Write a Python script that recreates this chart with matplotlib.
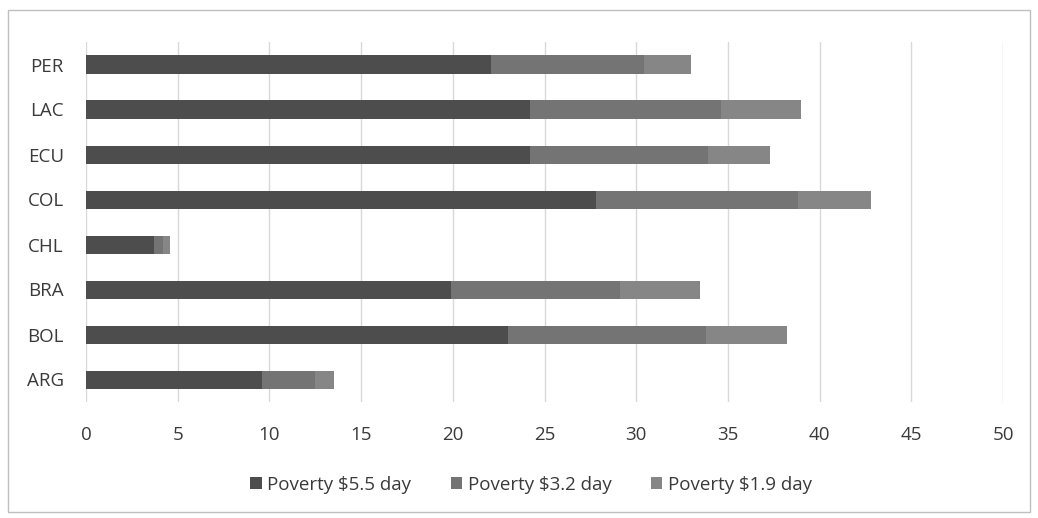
import matplotlib.pyplot as plt
from matplotlib.patches import Rectangle

plt.rcParams['font.family'] = ['Open Sans', 'DejaVu Sans']

# countries, bottom to top
countries = ['ARG', 'BOL', 'BRA', 'CHL', 'COL', 'ECU', 'LAC', 'PER']

# stacked segment widths
pov_55 = [9.6, 23.0, 19.9, 3.7, 27.8, 24.2, 24.2, 22.1]
pov_32 = [2.9, 10.8, 9.2, 0.5, 11.0, 9.7, 10.4, 8.3]
pov_19 = [1.0, 4.4, 4.4, 0.4, 4.0, 3.4, 4.4, 2.6]

series = [
    ('Poverty $5.5 day', pov_55, '#4d4d4d'),
    ('Poverty $3.2 day', pov_32, '#747474'),
    ('Poverty $1.9 day', pov_19, '#868686'),
]

W, H = 1038, 518
fig = plt.figure(figsize=(W / 100, H / 100), dpi=100)
ax = fig.add_axes([86 / W, 1 - 402 / H, (1003 - 86) / W, (402 - 42) / H])

left = [0.0] * len(countries)
for label, vals, color in series:
    ax.barh(countries, vals, left=left, height=0.4, color=color, label=label, zorder=3)
    left = [a + b for a, b in zip(left, vals)]

ax.set_xlim(0, 50)
ax.set_ylim(-0.5, len(countries) - 0.5)
ax.set_xticks(range(0, 51, 5))
ax.grid(axis='x', color='#d9d9d9', linewidth=1, zorder=0)
for s in ax.spines.values():
    s.set_visible(False)
ax.tick_params(length=0, labelsize=13.5, labelcolor='#3a3a3a')
ax.tick_params(axis='x', pad=17)
ax.tick_params(axis='y', pad=16)

leg = fig.legend(loc='center', bbox_to_anchor=(531 / W, 1 - 485 / H), ncol=3,
                 frameon=False, fontsize=13.5, handlelength=0.6, handleheight=0.6,
                 handletextpad=0.3, columnspacing=2.1)
for t in leg.get_texts():
    t.set_color('#3a3a3a')

fig.patches.append(Rectangle((8 / W, 6 / H), 1022 / W, 1 - 16 / H, transform=fig.transFigure,
                             fill=False, edgecolor='#bfbfbf', linewidth=1))

fig.savefig('out.png', dpi=100)
